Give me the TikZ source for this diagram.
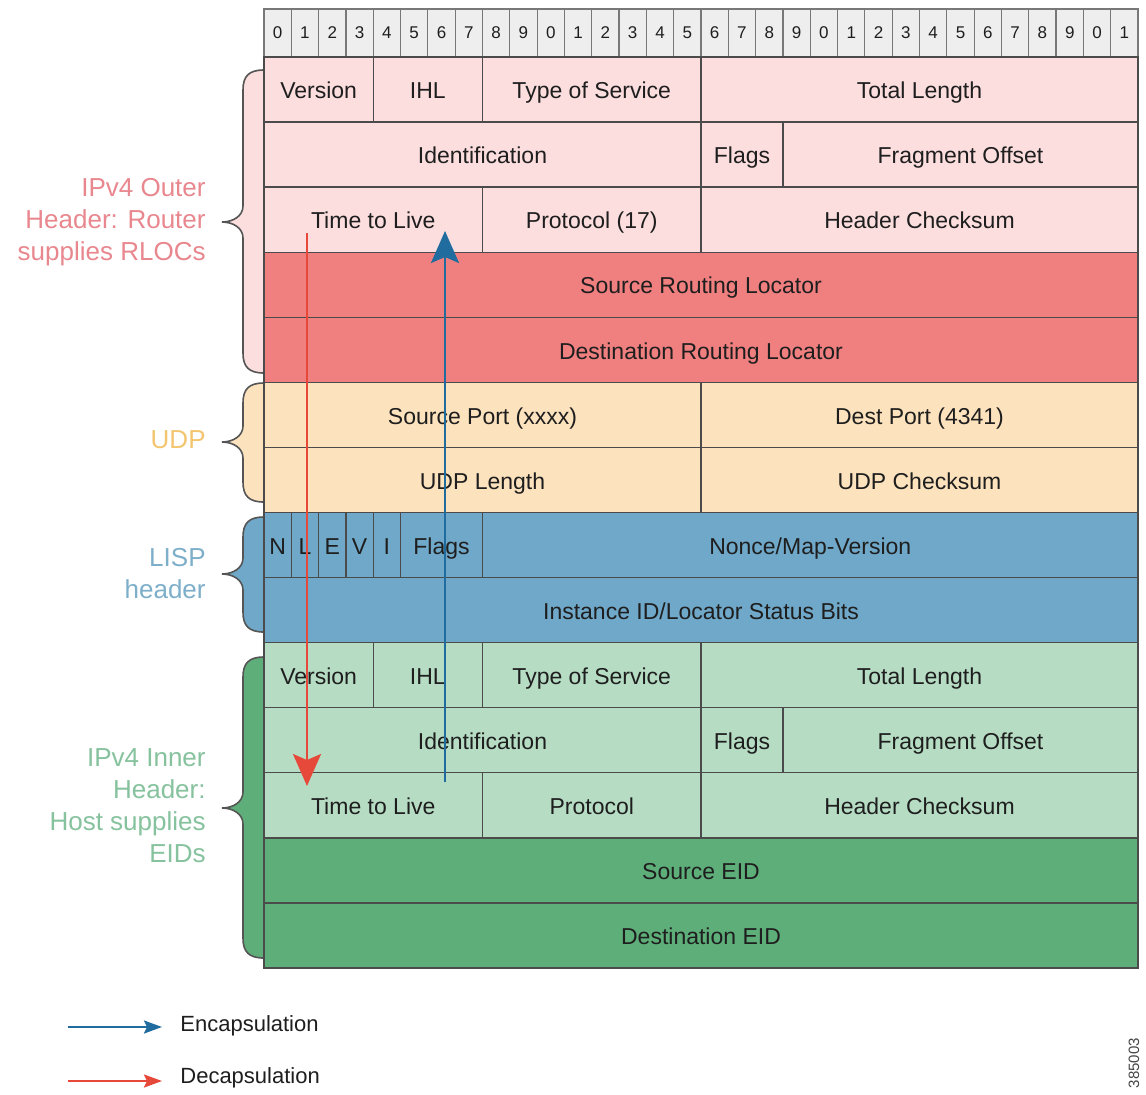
\documentclass[tikz,border=0pt]{standalone}
\usepackage{fontspec}
\setmainfont{Liberation Sans}
\usetikzlibrary{arrows.meta}
\definecolor{outerlt}{RGB}{252,222,222}
\definecolor{rloc}{RGB}{240,128,128}
\definecolor{udp}{RGB}{253,226,190}
\definecolor{lisp}{RGB}{112,168,201}
\definecolor{innerlt}{RGB}{182,221,196}
\definecolor{eid}{RGB}{94,174,122}
\definecolor{hdr}{RGB}{238,238,238}
\definecolor{gridc}{RGB}{75,75,75}
\definecolor{bitgrid}{RGB}{120,120,120}
\definecolor{txt}{RGB}{30,30,30}
\definecolor{bracec}{RGB}{85,85,85}
\definecolor{outerlab}{RGB}{233,135,143}
\definecolor{udplab}{RGB}{243,197,110}
\definecolor{lisplab}{RGB}{125,175,202}
\definecolor{innerlab}{RGB}{134,194,157}
\definecolor{encblue}{RGB}{32,108,158}
\definecolor{decred}{RGB}{230,72,58}
\definecolor{numgray}{RGB}{70,70,70}
\newcommand\fld[6]{\node[fieldbox, fill=#5, minimum width={(#3-#2)*13.65625pt}, minimum height=32.535pt] (#1) at ({264+(#2+#3)*13.65625}, {57+(#4-0.5)*65.07}) {#6};}
\newcommand\mybrace[4]{\draw[bracestyle, fill=#4] (264,#1) .. controls (249,#1) and (243,#1+6) .. (243,#1+20) -- (243,#2-16) .. controls (243,#2-6) and (233,#2) .. (222,#2) .. controls (233,#2) and (243,#2+6) .. (243,#2+16) -- (243,#3-20) .. controls (243,#3-6) and (249,#3) .. (264,#3);}
\begin{document}
\begin{tikzpicture}[x=0.5pt,y=-0.5pt,
  fieldbox/.style={draw=gridc, line width=0.7pt, rectangle, inner sep=0pt, text=txt,
    font=\fontsize{11.5}{13}\selectfont, text height=9.5pt, text depth=0.3pt},
  bitbox/.style={draw=bitgrid, fill=hdr, line width=0.6pt, rectangle, inner sep=0pt,
    minimum height=24pt, minimum width=13.65625pt, text=txt, font=\fontsize{8.5}{10}\selectfont},
  bracestyle/.style={draw=bracec, line width=0.8pt},
  grouplabel/.style={anchor=east, align=right, inner sep=0pt, font=\fontsize{13}{16}\selectfont},
  legendtext/.style={anchor=west, inner sep=0pt, text=txt, font=\fontsize{11}{13}\selectfont},
  encarrow/.style={draw=encblue, line width=1.1pt, -{Stealth[length=16pt,width=14pt,inset=3pt]}},
  decarrow/.style={draw=decred, line width=1.1pt, -{Stealth[length=16pt,width=14pt,inset=3pt]}},
  legenc/.style={draw=encblue, line width=1.1pt, -{Stealth[length=9pt,width=6.5pt,inset=1.5pt]}},
  legdec/.style={draw=decred, line width=1.1pt, -{Stealth[length=9pt,width=6.5pt,inset=1.5pt]}}
]
\useasboundingbox[fill=white] (0,0) rectangle (1146,1094);

% braces
\mybrace{70}{222}{373}{outerlt}
\mybrace{383}{442}{502}{udp}
\mybrace{517}{574}{632}{lisp}
\mybrace{657}{808}{958}{eid}

% bit header
\foreach \i in {0,...,31}{
  \pgfmathtruncatemacro\dg{mod(\i,10)}
  \node[bitbox] (b\i) at ({264+(2*\i+1)*13.65625},33) {\dg};
}

% outer IPv4 header
\fld{over}{0}{4}{1}{outerlt}{Version}
\fld{oihl}{4}{8}{1}{outerlt}{IHL}
\fld{otos}{8}{16}{1}{outerlt}{Type of Service}
\fld{otl}{16}{32}{1}{outerlt}{Total Length}
\fld{oid}{0}{16}{2}{outerlt}{Identification}
\fld{oflags}{16}{19}{2}{outerlt}{Flags}
\fld{ofo}{19}{32}{2}{outerlt}{Fragment Offset}
\fld{ottl}{0}{8}{3}{outerlt}{Time to Live}
\fld{oproto}{8}{16}{3}{outerlt}{Protocol (17)}
\fld{ohc}{16}{32}{3}{outerlt}{Header Checksum}
\fld{srloc}{0}{32}{4}{rloc}{Source Routing Locator}
\fld{drloc}{0}{32}{5}{rloc}{Destination Routing Locator}
% UDP
\fld{sport}{0}{16}{6}{udp}{Source Port (xxxx)}
\fld{dport}{16}{32}{6}{udp}{Dest Port (4341)}
\fld{ulen}{0}{16}{7}{udp}{UDP Length}
\fld{ucs}{16}{32}{7}{udp}{UDP Checksum}
% LISP
\fld{fn}{0}{1}{8}{lisp}{N}
\fld{fl}{1}{2}{8}{lisp}{L}
\fld{fe}{2}{3}{8}{lisp}{E}
\fld{fv}{3}{4}{8}{lisp}{V}
\fld{fi}{4}{5}{8}{lisp}{I}
\fld{lflags}{5}{8}{8}{lisp}{Flags}
\fld{nonce}{8}{32}{8}{lisp}{Nonce/Map-Version}
\fld{iid}{0}{32}{9}{lisp}{Instance ID/Locator Status Bits}
% inner IPv4 header
\fld{iver}{0}{4}{10}{innerlt}{Version}
\fld{iihl}{4}{8}{10}{innerlt}{IHL}
\fld{itos}{8}{16}{10}{innerlt}{Type of Service}
\fld{itl}{16}{32}{10}{innerlt}{Total Length}
\fld{iidf}{0}{16}{11}{innerlt}{Identification}
\fld{iflags}{16}{19}{11}{innerlt}{Flags}
\fld{ifo}{19}{32}{11}{innerlt}{Fragment Offset}
\fld{ittl}{0}{8}{12}{innerlt}{Time to Live}
\fld{iproto}{8}{16}{12}{innerlt}{Protocol}
\fld{ihc}{16}{32}{12}{innerlt}{Header Checksum}
\fld{seid}{0}{32}{13}{eid}{Source EID}
\fld{deid}{0}{32}{14}{eid}{Destination EID}

% group labels
\node[grouplabel, text=outerlab] (lout) at (206,222) {IPv4 Outer\\Header: Router\\supplies RLOCs};
\node[grouplabel, text=udplab] (ludp) at (206,440) {UDP};
\node[grouplabel, text=lisplab] (llisp) at (206,574) {LISP\\header};
\node[grouplabel, text=innerlab] (linner) at (206,806) {IPv4 Inner\\Header:\\Host supplies\\EIDs};

% encapsulation / decapsulation arrows
\coordinate (decS) at (307,233);
\coordinate (decE) at (307,786);
\coordinate (encS) at (445,782);
\coordinate (encE) at (445,231);
\draw[decarrow] (decS) -- (decE);
\draw[encarrow] (encS) -- (encE);

% legend
\node[legendtext] (enc) at (180,1026) {Encapsulation};
\node[legendtext] (dec) at (180,1078) {Decapsulation};
\coordinate (encL) at (68,1027);
\coordinate (encR) at (162,1027);
\coordinate (decL) at (68,1081);
\coordinate (decR) at (162,1081);
\draw[legenc] (encL) -- (encR);
\draw[legdec] (decL) -- (decR);

\node[rotate=90, inner sep=0pt, text=numgray, font=\fontsize{7.5}{9}\selectfont] (fig) at (1134,1063) {385003};
\end{tikzpicture}
\end{document}
